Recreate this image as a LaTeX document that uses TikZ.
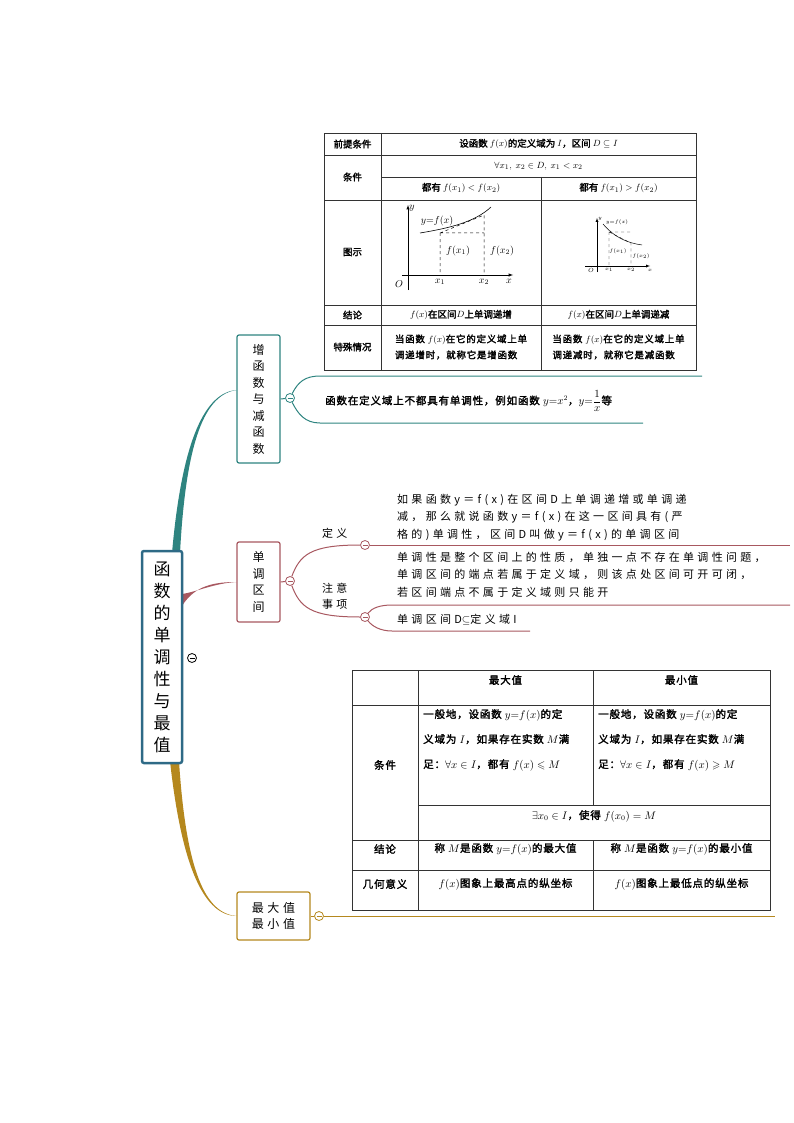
\documentclass[tikz,border=0pt]{standalone}
\usepackage{amsmath,amssymb}
\usepackage{fontspec}
\setmainfont{Noto Sans CJK SC}[AutoFakeBold=2]
\newfontfamily\spaced{Noto Sans CJK SC}[LetterSpace=30]
\newfontfamily\wide{Noto Sans CJK SC}[LetterSpace=8,AutoFakeBold=2]
\begin{document}
\begin{tikzpicture}[x=1pt,y=-1pt,
  txt/.style={inner sep=0pt,font=\fontsize{9.5}{11}\selectfont\bfseries},
  tbig/.style={inner sep=0pt,font=\fontsize{10.5}{12}\wide\selectfont\bfseries},
  sub/.style={inner sep=0pt,font=\fontsize{11}{17.5}\spaced\selectfont,align=left,anchor=west},
  bbox/.style={draw=#1,line width=1.2pt,rounded corners=2pt,fill=white,font=\fontsize{12}{16.5}\spaced\selectfont,align=center,inner sep=0pt},
  fold/.style={circle,draw=#1,fill=white,line width=0.8pt,minimum size=9pt,inner sep=0pt,
    path picture={\draw[#1,line width=0.8pt] ([xshift=-2.5pt]path picture bounding box.center) -- ([xshift=2.5pt]path picture bounding box.center);}},
  grid/.style={line width=0.6pt,draw=black!80}]
\definecolor{cteal}{RGB}{46,132,128}
\definecolor{crose}{RGB}{168,88,96}
\definecolor{cgold}{RGB}{181,136,30}
\definecolor{croot}{RGB}{46,106,134}
\useasboundingbox (0,0) rectangle (794,1123);

% branches under the boxes
\fill[cteal] (172,553) .. controls (182,440) and (205,392) .. (237,390) .. controls (205,394) and (186,440) .. (180,553) -- cycle;
\fill[crose] (182,606) .. controls (195,585) and (215,582) .. (237,582) .. controls (215,583) and (196,592) .. (182,594) -- cycle;
\fill[cgold] (170,761) .. controls (182,870) and (205,916) .. (237,916) .. controls (205,914) and (186,870) .. (179,761) -- cycle;

% root
\node[bbox=croot,line width=2.5pt,minimum width=40pt,minimum height=212pt,font=\fontsize{17}{22}\selectfont] (root) at (162,657) {函\\数\\的\\单\\调\\性\\与\\最\\值};
\node[fold=black] (rfold) at (192,658) {};

% main branches
\node[bbox=cteal,minimum width=43pt,minimum height=128pt] (b1) at (258.5,399) {增\\函\\数\\与\\减\\函\\数};
\node[bbox=crose,minimum width=43pt,minimum height=80pt] (b2) at (258.5,582) {单\\调\\区\\间};
\node[bbox=cgold,minimum width=73pt,minimum height=48pt] (b3) at (273.5,916) {最大值\\最小值};

% branch 1
\node[fold=cteal] (f1) at (290,398) {};
\draw[cteal,line width=1pt] (b1.east) -- (f1);
\coordinate (u1) at (702,376);
\coordinate (d1) at (643,423);
\draw[cteal,line width=1pt] (f1) .. controls (298,382) and (305,376) .. (320,376) -- (u1);
\draw[cteal,line width=1pt] (f1) .. controls (298,414) and (305,423) .. (320,423) -- (d1);
\node[tbig,anchor=west] (n1) at (325,401) {函数在定义域上不都具有单调性，例如函数 $y{=}x^2$，$y{=}\dfrac{1}{x}$等};

% table 1
\draw[grid,fill=white] (324,133) rectangle (696,370);
\foreach \y in {155,200,305,325} \draw[grid] (324,\y) -- (696,\y);
\draw[grid] (381,177) -- (696,177);
\draw[grid] (381,133) -- (381,370);
\draw[grid] (541,177) -- (541,370);
\node[txt] (t1a) at (352.5,144) {前提条件};
\node[txt] (t1b) at (538.5,144) {设函数 $f(x)$的定义域为 $I$，区间 $D\subseteq I$};
\node[txt] (t1c) at (352.5,177) {条件};
\node[txt] (t1d) at (538.5,166) {$\forall x_1,\ x_2\in D,\ x_1<x_2$};
\node[txt] (t1e) at (461,188) {都有 $f(x_1)<f(x_2)$};
\node[txt] (t1f) at (618.5,188) {都有 $f(x_1)>f(x_2)$};
\node[txt] (t1g) at (352.5,252) {图示};
\node[txt] (t1h) at (352.5,315) {结论};
\node[txt] (t1i) at (461,315) {$f(x)$在区间$D$上单调递增};
\node[txt] (t1j) at (618.5,315) {$f(x)$在区间$D$上单调递减};
\node[txt] (t1k) at (352.5,347) {特殊情况};
\node[txt,align=left,font=\fontsize{9.5}{16}\wide\selectfont\bfseries] (t1l) at (461,347) {当函数 $f(x)$在它的定义域上单\\调递增时，就称它是增函数};
\node[txt,align=left,font=\fontsize{9.5}{16}\wide\selectfont\bfseries] (t1m) at (618.5,347) {当函数 $f(x)$在它的定义域上单\\调递减时，就称它是减函数};
% graph increasing
\draw[-latex,line width=0.5pt] (402,275) -- (513,275);
\draw[-latex,line width=0.5pt] (408,290) -- (408,205);
\draw[line width=0.6pt] (420,233) .. controls (450,228) and (475,222) .. (491,207);
\draw[dashed,line width=0.5pt] (440,233) -- (484,215) -- (484,275) (440,233) -- (440,275) (440,233) -- (484,233);
\node[font=\fontsize{10}{10}\selectfont,inner sep=0pt] (ga) at (412,208) {$y$};
\node[font=\fontsize{10}{10}\selectfont,inner sep=0pt] (gb) at (437,221) {$y{=}f(x)$};
\node[font=\fontsize{10}{10}\selectfont,inner sep=0pt] (gc) at (458,251) {$f(x_1)$};
\node[font=\fontsize{10}{10}\selectfont,inner sep=0pt] (gd) at (502,251) {$f(x_2)$};
\node[font=\fontsize{10}{10}\selectfont,inner sep=0pt] (ge) at (399,284) {$O$};
\node[font=\fontsize{10}{10}\selectfont,inner sep=0pt] (gf) at (440,282) {$x_1$};
\node[font=\fontsize{10}{10}\selectfont,inner sep=0pt] (gg) at (484,282) {$x_2$};
\node[font=\fontsize{10}{10}\selectfont,inner sep=0pt] (gh) at (509,281) {$x$};
% graph decreasing
\draw[-latex,line width=0.4pt] (585,266) -- (650,266);
\draw[-latex,line width=0.4pt] (597,272) -- (597,218);
\draw[line width=0.5pt] (603,224) .. controls (615,238) and (628,243) .. (642,245);
\draw[dashed,line width=0.4pt] (609,232) -- (631,243) -- (631,266) (609,232) -- (609,266) (609,232) -- (631,232);
\node[font=\fontsize{5.5}{5.5}\selectfont,inner sep=0pt] (ha) at (600,219) {$y$};
\node[font=\fontsize{5.5}{5.5}\selectfont,inner sep=0pt] (hb) at (617,222) {$y{=}f(x)$};
\node[font=\fontsize{5.5}{5.5}\selectfont,inner sep=0pt] (hc) at (618,251) {$f(x_1)$};
\node[font=\fontsize{5.5}{5.5}\selectfont,inner sep=0pt] (hd) at (641,256) {$f(x_2)$};
\node[font=\fontsize{6.5}{6.5}\selectfont,inner sep=0pt] (he) at (591,270) {$O$};
\node[font=\fontsize{5.5}{5.5}\selectfont,inner sep=0pt] (hf) at (609,270) {$x_1$};
\node[font=\fontsize{5.5}{5.5}\selectfont,inner sep=0pt] (hg) at (631,270) {$x_2$};
\node[font=\fontsize{5.5}{5.5}\selectfont,inner sep=0pt] (hh) at (650,270) {$x$};

% branch 2
\node[fold=crose] (f2) at (290,581) {};
\draw[crose,line width=1pt] (b2.east) -- (f2);
\node[fold=crose] (f2a) at (365,545) {};
\node[fold=crose] (f2b) at (365,617) {};
\draw[crose,line width=1pt] (f2) .. controls (300,555) and (310,545) .. (f2a);
\draw[crose,line width=1pt] (f2) .. controls (300,607) and (310,617) .. (f2b);
\node[sub] (l2a) at (322,533) {定义};
\node[sub,font=\fontsize{11}{16}\spaced\selectfont] (l2b) at (322,596) {注意\\事项};
\coordinate (e2a) at (790,545);
\coordinate (e2b) at (790,605);
\coordinate (e2c) at (530,631);
\draw[crose,line width=1pt] (f2a) -- (e2a);
\draw[crose,line width=1pt] (f2b) .. controls (372,608) and (380,605) .. (392,605) -- (e2b);
\draw[crose,line width=1pt] (f2b) .. controls (372,626) and (380,631) .. (392,631) -- (e2c);
\node[sub,anchor=north west] (s2a) at (397,494) {如果函数y＝f(x)在区间D上单调递增或单调递\\减，那么就说函数y＝f(x)在这一区间具有(严\\格的)单调性，区间D叫做y＝f(x)的单调区间};
\node[sub,anchor=north west] (s2b) at (397,552) {单调性是整个区间上的性质，单独一点不存在单调性问题，\\单调区间的端点若属于定义域，则该点处区间可开可闭，\\若区间端点不属于定义域则只能开};
\node[sub] (s2c) at (397,620) {单调区间D$\subseteq$定义域I};

% branch 3
\node[fold=cgold] (f3) at (319,916) {};
\draw[cgold,line width=1pt] (b3.east) -- (f3);
\coordinate (e3) at (775,916);
\draw[cgold,line width=1pt] (f3) -- (e3);

% table 2
\draw[grid,fill=white] (352,670) rectangle (770,910);
\foreach \y in {705,840,870} \draw[grid] (352,\y) -- (770,\y);
\draw[grid] (418,805) -- (770,805);
\draw[grid] (418,670) -- (418,910);
\draw[grid] (593,670) -- (593,805) (593,840) -- (593,910);
\node[tbig] (t2a) at (505.5,680) {最大值};
\node[tbig] (t2b) at (681.5,680) {最小值};
\node[tbig] (t2c) at (385,765) {条件};
\node[tbig,align=left,anchor=north west,font=\fontsize{10.5}{25}\wide\selectfont\bfseries] (t2d) at (423,709) {一般地，设函数 $y{=}f(x)$的定\\义域为 $I$，如果存在实数 $M$满\\足：$\forall x\in I$，都有 $f(x)\leqslant M$};
\node[tbig,align=left,anchor=north west,font=\fontsize{10.5}{25}\wide\selectfont\bfseries] (t2e) at (598,709) {一般地，设函数 $y{=}f(x)$的定\\义域为 $I$，如果存在实数 $M$满\\足：$\forall x\in I$，都有 $f(x)\geqslant M$};
\node[tbig] (t2f) at (594,816) {$\exists x_0\in I$，使得 $f(x_0)=M$};
\node[tbig] (t2g) at (385,849) {结论};
\node[tbig] (t2h) at (505.5,849) {称 $M$是函数 $y{=}f(x)$的最大值};
\node[tbig] (t2i) at (681.5,849) {称 $M$是函数 $y{=}f(x)$的最小值};
\node[tbig] (t2j) at (385,884) {几何意义};
\node[tbig] (t2k) at (505.5,884) {$f(x)$图象上最高点的纵坐标};
\node[tbig] (t2l) at (681.5,884) {$f(x)$图象上最低点的纵坐标};
\end{tikzpicture}
\end{document}
